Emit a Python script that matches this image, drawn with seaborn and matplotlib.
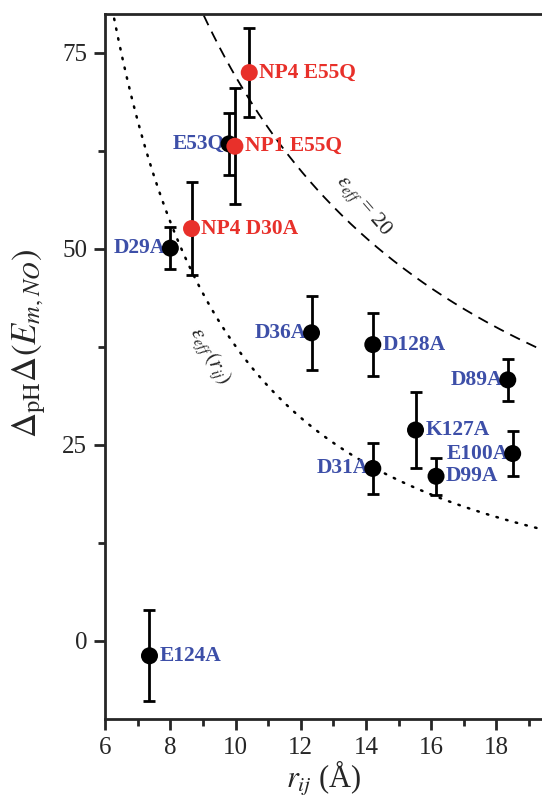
import numpy as np
import pandas as pd
import matplotlib
matplotlib.use('Agg')
import matplotlib.pyplot as plt
import seaborn as sns
from matplotlib.ticker import MultipleLocator

sns.set_style('ticks')
plt.rcParams['font.family'] = ['Liberation Serif', 'DejaVu Serif']
plt.rcParams['mathtext.fontset'] = 'stix'

# 数据
labels = ['E124A', 'D29A', 'NP4 D30A', 'E53Q', 'NP1 E55Q', 'NP4 E55Q', 'D36A',
          'D128A', 'D89A', 'K127A', 'E100A', 'D31A', 'D99A']
r_ij = [7.36, 8.0, 8.65, 9.8, 9.98, 10.42, 12.33, 14.21, 18.35, 15.52, 18.5, 14.21, 16.15]
ddE = [-1.9, 50.1, 52.6, 63.4, 63.1, 72.5, 39.3, 37.8, 33.3, 26.9, 23.9, 22.0, 21.0]
err = [5.8, 2.7, 5.9, 4.0, 7.4, 5.7, 4.7, 4.0, 2.65, 4.85, 2.9, 3.25, 2.35]
group = ['mut', 'mut', 'np', 'mut', 'np', 'np', 'mut',
         'mut', 'mut', 'mut', 'mut', 'mut', 'mut']
side = ['right', 'left', 'right', 'left', 'right', 'right', 'left',
        'right', 'left', 'right', 'left', 'left', 'right']

# 理论曲线参数
coulomb_k = 720.0             # eps_eff = 20
sig_a, sig_b = 170.0, 2060.0  # eps_eff(r_ij)

df = pd.DataFrame({'r': r_ij, 'y': ddE, 'err': err, 'group': group,
                   'label': labels, 'side': side})

red = '#e8302a'
blue = '#3d4fa8'

fig = plt.figure(figsize=(5.42, 8.1), dpi=100)
ax = fig.add_axes([0.194, 0.112, 0.806, 0.871])

r = np.linspace(6.0, 19.4, 300)
sns.lineplot(x=r, y=coulomb_k / r, ax=ax, color='black', lw=1.3,
             linestyle=(0, (6, 4)))
sns.lineplot(x=r, y=sig_a / r + sig_b / r**2, ax=ax, color='black', lw=1.8,
             linestyle=(0, (0.6, 3.4)), dash_capstyle='round')

ax.errorbar(df['r'], df['y'], yerr=df['err'], fmt='none', ecolor='black',
            elinewidth=2, capsize=4.5, capthick=2, zorder=3)

sns.scatterplot(data=df, x='r', y='y', hue='group',
                palette={'mut': 'black', 'np': red}, s=150, edgecolor='none',
                legend=False, ax=ax, zorder=4)

# 文本标注
for _, row in df.iterrows():
    c = red if row['group'] == 'np' else blue
    if row['side'] == 'right':
        dx, ha = 7, 'left'
    else:
        dx, ha = -3, 'right'
    ax.annotate(row['label'], (row['r'], row['y']), xytext=(dx, 0),
                textcoords='offset points', ha=ha, va='center', color=c,
                fontsize=15.5, fontweight='bold')

ax.text(13.9, 55.5, r'$\varepsilon_{eff}$ = 20', rotation=-49, fontsize=16,
        ha='center', va='center')
ax.text(9.2, 36.3, r'$\varepsilon_{eff}\,(r_{ij})$', rotation=-60, fontsize=16,
        ha='center', va='center')

ax.set_xlim(6, 19.4)
ax.set_ylim(-10, 80)
ax.xaxis.set_major_locator(MultipleLocator(2))
ax.xaxis.set_minor_locator(MultipleLocator(1))
ax.yaxis.set_major_locator(MultipleLocator(25))
ax.yaxis.set_minor_locator(MultipleLocator(12.5))
ax.tick_params(which='major', length=8, width=2, labelsize=18, pad=5)
ax.tick_params(which='minor', length=5, width=2)
for s in ['left', 'bottom', 'top']:
    ax.spines[s].set_linewidth(2)
ax.spines['right'].set_visible(False)

ax.set_xlabel(r'$r_{ij}$ (Å)', fontsize=22, labelpad=0)
ax.set_ylabel(r'$\Delta_{\rm pH}\Delta(E_{m,NO})$', fontsize=25)
ax.yaxis.set_label_coords(-0.13, 0.533)

fig.savefig('out.png', dpi=100)
